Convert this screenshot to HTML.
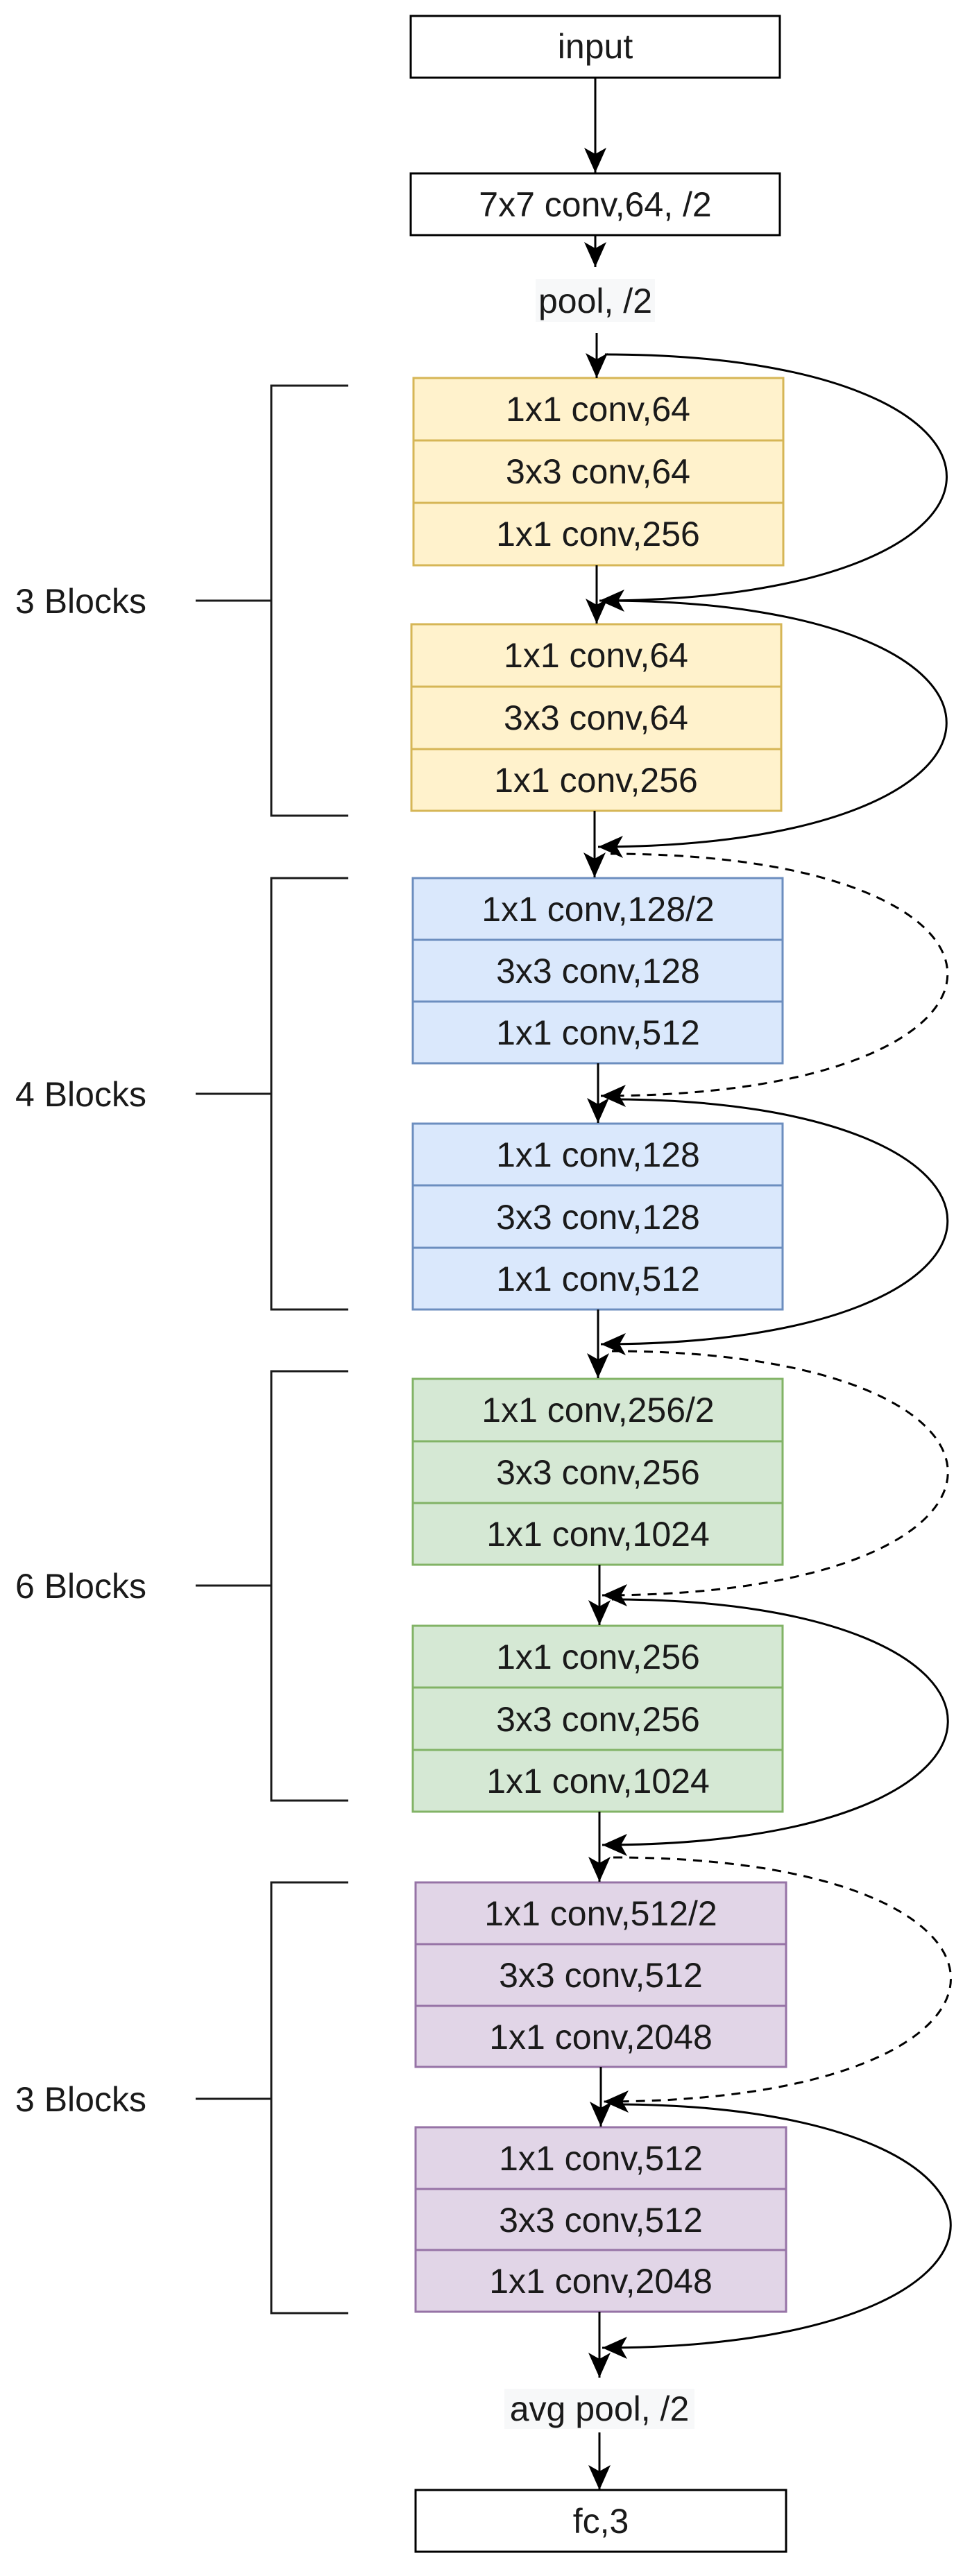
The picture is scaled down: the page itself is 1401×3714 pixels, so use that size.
<!DOCTYPE html>
<html><head><meta charset="utf-8"><style>
html,body{margin:0;padding:0;background:#fff;}
svg{display:block;}
text{font-family:"Liberation Sans",Arial,sans-serif;font-size:50px;fill:#1a1a1a;}
</style></head><body>
<svg width="1401" height="3714" viewBox="0 0 1401 3714" xmlns="http://www.w3.org/2000/svg">
<defs>
<marker id="a" viewBox="-40 -20 44 40" markerWidth="44" markerHeight="40" refX="0" refY="0" orient="auto" markerUnits="userSpaceOnUse">
<path d="M0,0 L-36,-16 L-27,0 L-36,16 Z" fill="#000"/>
</marker>
</defs>
<g stroke="#000" stroke-width="3" fill="none">
<!-- top boxes -->
<rect x="592" y="23" width="532" height="89" fill="#fff"/>
<rect x="592" y="250" width="532" height="89" fill="#fff"/>
<rect x="599" y="3590" width="534" height="89" fill="#fff"/>
</g>
<rect x="772" y="402" width="172" height="62" fill="#f7f8f9"/>
<rect x="727" y="3444" width="274" height="58" fill="#f7f8f9"/>
<text x="858" y="84" text-anchor="middle">input</text>
<text x="858" y="312" text-anchor="middle">7x7 conv,64, /2</text>
<text x="858" y="451" text-anchor="middle">pool, /2</text>
<text x="864" y="3490" text-anchor="middle">avg pool, /2</text>
<text x="866" y="3652" text-anchor="middle">fc,3</text>

<!-- blocks -->
<g stroke-width="3">
<g fill="#fff2cc" stroke="#d6b656">
<rect x="596" y="545" width="533" height="90"/><rect x="596" y="635" width="533" height="90"/><rect x="596" y="725" width="533" height="90"/>
<rect x="593" y="900" width="533" height="90"/><rect x="593" y="990" width="533" height="90"/><rect x="593" y="1080" width="533" height="89"/>
</g>
<g fill="#dae8fc" stroke="#6c8ebf">
<rect x="595" y="1266" width="533" height="89"/><rect x="595" y="1355" width="533" height="89"/><rect x="595" y="1444" width="533" height="89"/>
<rect x="595" y="1620" width="533" height="89"/><rect x="595" y="1709" width="533" height="90"/><rect x="595" y="1799" width="533" height="89"/>
</g>
<g fill="#d5e8d4" stroke="#82b366">
<rect x="595" y="1988" width="533" height="90"/><rect x="595" y="2078" width="533" height="89"/><rect x="595" y="2167" width="533" height="89"/>
<rect x="595" y="2344" width="533" height="89"/><rect x="595" y="2433" width="533" height="90"/><rect x="595" y="2523" width="533" height="89"/>
</g>
<g fill="#e1d5e7" stroke="#9673a6">
<rect x="599" y="2714" width="534" height="89"/><rect x="599" y="2803" width="534" height="89"/><rect x="599" y="2892" width="534" height="88"/>
<rect x="599" y="3067" width="534" height="89"/><rect x="599" y="3156" width="534" height="88"/><rect x="599" y="3244" width="534" height="89"/>
</g>
</g>
<g text-anchor="middle">
<text x="862" y="607">1x1 conv,64</text><text x="862" y="697">3x3 conv,64</text><text x="862" y="787">1x1 conv,256</text>
<text x="859" y="962">1x1 conv,64</text><text x="859" y="1052">3x3 conv,64</text><text x="859" y="1142">1x1 conv,256</text>
<text x="862" y="1328">1x1 conv,128/2</text><text x="862" y="1417">3x3 conv,128</text><text x="862" y="1506">1x1 conv,512</text>
<text x="862" y="1682">1x1 conv,128</text><text x="862" y="1772">3x3 conv,128</text><text x="862" y="1861">1x1 conv,512</text>
<text x="862" y="2050">1x1 conv,256/2</text><text x="862" y="2140">3x3 conv,256</text><text x="862" y="2229">1x1 conv,1024</text>
<text x="862" y="2406">1x1 conv,256</text><text x="862" y="2496">3x3 conv,256</text><text x="862" y="2585">1x1 conv,1024</text>
<text x="866" y="2776">1x1 conv,512/2</text><text x="866" y="2865">3x3 conv,512</text><text x="866" y="2954">1x1 conv,2048</text>
<text x="866" y="3129">1x1 conv,512</text><text x="866" y="3218">3x3 conv,512</text><text x="866" y="3306">1x1 conv,2048</text>
</g>

<!-- brackets -->
<g stroke="#1a1a1a" stroke-width="3" fill="none">
<path d="M502 556 H391 V1176 H502 M282 866 H391"/>
<path d="M502 1266 H391 V1888 H502 M282 1577 H391"/>
<path d="M502 1977 H391 V2596 H502 M282 2286 H391"/>
<path d="M502 2714 H391 V3335 H502 M282 3026 H391"/>
</g>
<text x="22" y="884">3 Blocks</text>
<text x="22" y="1595">4 Blocks</text>
<text x="22" y="2304">6 Blocks</text>
<text x="22" y="3044">3 Blocks</text>

<!-- main arrows -->
<g stroke="#000" stroke-width="3" fill="none" marker-end="url(#a)">
<path d="M858 112 V249"/>
<path d="M858 339 V385"/>
<path d="M860 480 V545"/>
<path d="M860 815 V899"/>
<path d="M857 1169 V1265"/>
<path d="M862 1533 V1619"/>
<path d="M862 1888 V1987"/>
<path d="M864 2256 V2343"/>
<path d="M864 2612 V2713"/>
<path d="M866 2980 V3066"/>
<path d="M864 3333 V3428"/>
<path d="M864 3507 V3590"/>
</g>

<!-- skip connections -->
<g stroke="#000" stroke-width="3" fill="none" marker-end="url(#a)">
<path d="M872 511 C1530 511, 1530 865, 864 866"/>
<path d="M872 866 C1530 866, 1530 1220, 862 1221"/>
<path d="M880 1231 C1530 1231, 1530 1580, 866 1580" stroke-dasharray="13 10"/>
<path d="M880 1585 C1530 1585, 1530 1938, 866 1938"/>
<path d="M882 1948 C1530 1948, 1530 2300, 868 2300" stroke-dasharray="13 10"/>
<path d="M882 2306 C1530 2306, 1530 2660, 868 2660"/>
<path d="M884 2678 C1535 2678, 1535 3030, 870 3030" stroke-dasharray="13 10"/>
<path d="M884 3034 C1535 3034, 1535 3385, 868 3385"/>
</g>
</svg>
</body></html>
